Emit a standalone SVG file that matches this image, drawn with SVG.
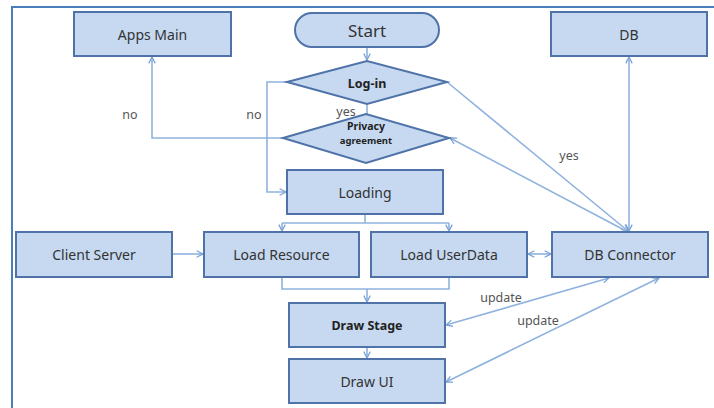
<svg xmlns="http://www.w3.org/2000/svg" width="714" height="408" viewBox="0 0 714 408">
<defs>
<marker id="ah" viewBox="0 0 10 10" refX="9" refY="5" markerWidth="8" markerHeight="8" orient="auto-start-reverse" markerUnits="userSpaceOnUse">
<path d="M1,1 L9,5 L1,9" fill="none" stroke="#7aa3d6" stroke-width="1.6"/>
</marker>
</defs>
<style>
.n{fill:#c6d9f1;stroke:#4f73a8;stroke-width:2}
.t{font-family:"Noto Sans","Open Sans",sans-serif;font-size:14px;fill:#333;text-anchor:middle;dominant-baseline:central}
.b{font-weight:bold;fill:#222}
.c{fill:none;stroke:#8fb2de;stroke-width:1.6}
.l{font-family:"Noto Sans","Open Sans",sans-serif;font-size:12.5px;fill:#555;text-anchor:middle;dominant-baseline:central}
</style>
<rect width="714" height="408" fill="#fff"/>
<path d="M12,408 V7 H714" fill="none" stroke="#4a7ebb" stroke-width="2"/>

<g id="connectors">
<path class="c" d="M367,47 V60" marker-end="url(#ah)"/>
<path class="c" d="M367,104 V114"/>
<path class="c" d="M287,82 H267 V192 H286" marker-end="url(#ah)"/>
<path class="c" d="M283,138 H152 V57" marker-end="url(#ah)"/>
<path class="c" d="M365,214 V223"/>
<path class="c" d="M282,223 H449"/>
<path class="c" d="M282,223 V231" marker-end="url(#ah)"/>
<path class="c" d="M449,223 V231" marker-end="url(#ah)"/>
<path class="c" d="M282,277 V289 H449 V277"/>
<path class="c" d="M367,289 V302" marker-end="url(#ah)"/>
<path class="c" d="M367,347 V358" marker-end="url(#ah)"/>
<path class="c" d="M172,254 H203" marker-end="url(#ah)"/>
<path class="c" d="M528,254 H551" marker-start="url(#ah)" marker-end="url(#ah)"/>
<path class="c" d="M629,57 V231" marker-start="url(#ah)" marker-end="url(#ah)"/>
<path class="c" d="M447,82 L628,231" marker-end="url(#ah)"/>
<path class="c" d="M628,232 L450,138" marker-end="url(#ah)"/>
<path class="c" d="M446,325 L609,278" marker-start="url(#ah)" marker-end="url(#ah)"/>
<path class="c" d="M446,382 L659,278" marker-start="url(#ah)" marker-end="url(#ah)"/>
<text class="l" x="130" y="114">no</text>
<text class="l" x="254" y="114">no</text>
<text class="l" x="346" y="111">yes</text>
<text class="l" x="569" y="155">yes</text>
<text class="l" x="501" y="297">update</text>
<text class="l" x="538" y="320">update</text>
</g>

<g id="apps-main"><rect class="n" x="74" y="12" width="157" height="44"/><text class="t" x="152.5" y="34">Apps Main</text></g>
<g id="start"><rect class="n" x="295" y="13" width="144" height="34" rx="17"/><text class="t" x="367" y="30" style="font-size:17px">Start</text></g>
<g id="db"><rect class="n" x="551" y="12" width="156" height="44"/><text class="t" x="629" y="34">DB</text></g>
<g id="login"><polygon class="n" points="287,82 367,61 447,82 367,104"/><text class="t b" x="367" y="83" style="font-size:12.5px">Log-in</text></g>
<g id="privacy"><polygon class="n" points="283,138 366,114 449,138 366,163"/><text class="t b" x="366" y="126" style="font-size:10.5px">Privacy</text><text class="t b" x="366" y="140" style="font-size:9.5px">agreement</text></g>
<g id="loading"><rect class="n" x="287" y="170" width="156" height="44"/><text class="t" x="365" y="192">Loading</text></g>
<g id="client-server"><rect class="n" x="16" y="232" width="156" height="45"/><text class="t" x="94" y="254.5">Client Server</text></g>
<g id="load-resource"><rect class="n" x="204" y="232" width="155" height="45"/><text class="t" x="281.5" y="254.5">Load Resource</text></g>
<g id="load-userdata"><rect class="n" x="371" y="232" width="156" height="45"/><text class="t" x="449" y="254.5">Load UserData</text></g>
<g id="db-connector"><rect class="n" x="552" y="232" width="156" height="45"/><text class="t" x="630" y="254.5">DB Connector</text></g>
<g id="draw-stage"><rect class="n" x="289" y="303" width="156" height="44"/><text class="t b" x="367" y="325" style="font-size:12.5px">Draw Stage</text></g>
<g id="draw-ui"><rect class="n" x="289" y="359" width="156" height="44"/><text class="t" x="367" y="381">Draw UI</text></g>
</svg>
